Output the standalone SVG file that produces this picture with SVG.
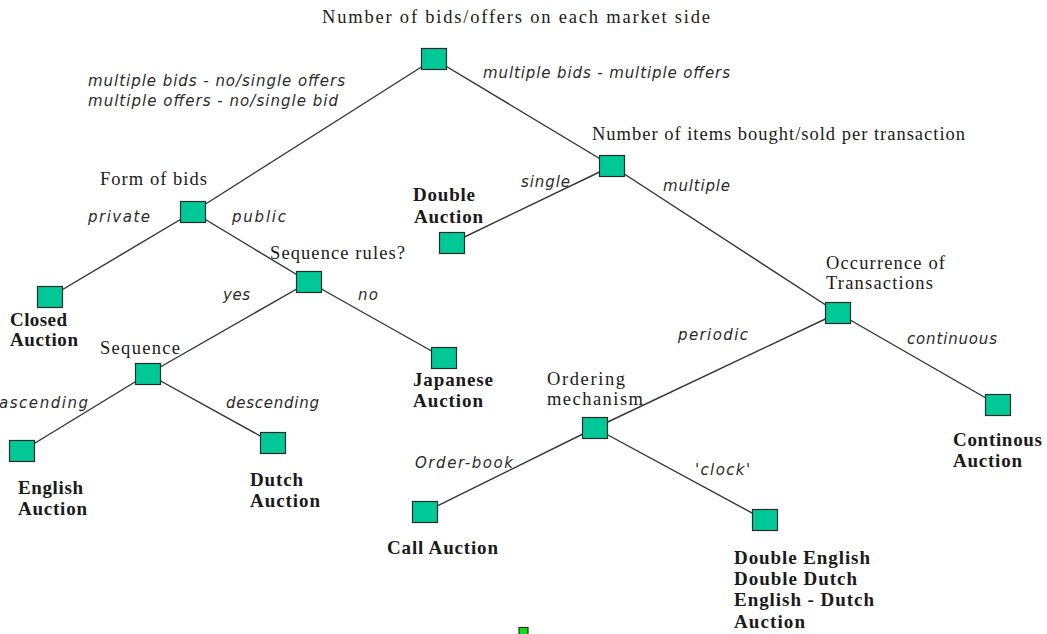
<svg xmlns="http://www.w3.org/2000/svg" width="1047" height="634" viewBox="0 0 1047 634">
  <style>
    .edge { stroke: #333333; stroke-width: 1.4; fill: none; }
    .node rect { fill: #00c997; stroke: #2a2a2a; stroke-width: 1.2; }
    .q { font-family: "Liberation Serif", "Times New Roman", serif; font-size: 18.5px; fill: #1a1a1a; }
    .lbl { font-family: "DejaVu Sans", Verdana, sans-serif; font-style: italic; font-size: 15px; fill: #2a2a2a; }
    .leaf { font-family: "Liberation Serif", "Times New Roman", serif; font-weight: bold; font-size: 19px; fill: #1a1a1a; }
  </style>
  <rect width="1047" height="634" fill="#ffffff"/>

  <!-- connectors between decision points -->
  <g id="connectors">
    <line class="edge" x1="434" y1="59" x2="193" y2="212"/>
    <line class="edge" x1="434" y1="59" x2="612" y2="166"/>
    <line class="edge" x1="193" y1="212" x2="50" y2="297"/>
    <line class="edge" x1="193" y1="212" x2="309" y2="282"/>
    <line class="edge" x1="309" y1="282" x2="148" y2="374"/>
    <line class="edge" x1="309" y1="282" x2="444" y2="358"/>
    <line class="edge" x1="148" y1="374" x2="22" y2="451"/>
    <line class="edge" x1="148" y1="374" x2="273" y2="443"/>
    <line class="edge" x1="612" y1="166" x2="452" y2="243"/>
    <line class="edge" x1="612" y1="166" x2="838" y2="313"/>
    <line class="edge" x1="838" y1="313" x2="595" y2="428"/>
    <line class="edge" x1="838" y1="313" x2="998" y2="405"/>
    <line class="edge" x1="595" y1="428" x2="425" y2="512"/>
    <line class="edge" x1="595" y1="428" x2="765" y2="520"/>
  </g>

  <!-- edge labels -->
  <g id="edge-labels">
    <text class="lbl" x="88" y="86" textLength="257" lengthAdjust="spacing">multiple bids - no/single offers</text>
    <text class="lbl" x="88" y="106" textLength="250" lengthAdjust="spacing">multiple offers - no/single bid</text>
    <text class="lbl" x="483" y="78" textLength="247" lengthAdjust="spacing">multiple bids - multiple offers</text>
    <text class="lbl" x="88" y="222" textLength="62" lengthAdjust="spacing">private</text>
    <text class="lbl" x="232" y="222" textLength="54" lengthAdjust="spacing">public</text>
    <text class="lbl" x="521" y="187" textLength="49" lengthAdjust="spacing">single</text>
    <text class="lbl" x="663" y="191" textLength="67" lengthAdjust="spacing">multiple</text>
    <text class="lbl" x="223" y="300" textLength="27" lengthAdjust="spacing">yes</text>
    <text class="lbl" x="358" y="300" textLength="20" lengthAdjust="spacing">no</text>
    <text class="lbl" x="-1" y="408" textLength="89" lengthAdjust="spacing">ascending</text>
    <text class="lbl" x="226" y="408" textLength="93" lengthAdjust="spacing">descending</text>
    <text class="lbl" x="678" y="340" textLength="70" lengthAdjust="spacing">periodic</text>
    <text class="lbl" x="907" y="344" textLength="90" lengthAdjust="spacing">continuous</text>
    <text class="lbl" x="415" y="468" textLength="98" lengthAdjust="spacing">Order-book</text>
    <text class="lbl" x="695" y="475" textLength="55" lengthAdjust="spacing">'clock'</text>
  </g>

  <!-- decision points -->
  <g id="node-root" class="node">
    <rect x="421.5" y="48.5" width="25" height="21"/>
    <text class="q" x="322" y="23" textLength="388" lengthAdjust="spacing">Number of bids/offers on each market side</text>
  </g>
  <g id="node-items" class="node">
    <rect x="599.5" y="155.5" width="25" height="21"/>
    <text class="q" x="592" y="140" textLength="373" lengthAdjust="spacing">Number of items bought/sold per transaction</text>
  </g>
  <g id="node-form" class="node">
    <rect x="180.5" y="201.5" width="25" height="21"/>
    <text class="q" x="100" y="185" textLength="107" lengthAdjust="spacing">Form of bids</text>
  </g>
  <g id="node-seqrules" class="node">
    <rect x="296.5" y="271.5" width="25" height="21"/>
    <text class="q" x="270" y="259" textLength="135" lengthAdjust="spacing">Sequence rules?</text>
  </g>
  <g id="node-sequence" class="node">
    <rect x="135.5" y="363.5" width="25" height="21"/>
    <text class="q" x="100" y="354" textLength="80" lengthAdjust="spacing">Sequence</text>
  </g>
  <g id="node-occurrence" class="node">
    <rect x="825.5" y="302.5" width="25" height="21"/>
    <text class="q" x="826" y="269" textLength="119" lengthAdjust="spacing">Occurrence of</text>
    <text class="q" x="826" y="289" textLength="107" lengthAdjust="spacing">Transactions</text>
  </g>
  <g id="node-ordering" class="node">
    <rect x="582.5" y="417.5" width="25" height="21"/>
    <text class="q" x="547" y="385" textLength="78" lengthAdjust="spacing">Ordering</text>
    <text class="q" x="547" y="405" textLength="96" lengthAdjust="spacing">mechanism</text>
  </g>

  <!-- outcomes -->
  <g id="leaf-double" class="node">
    <rect x="439.5" y="232.5" width="25" height="21"/>
    <text class="leaf" x="413" y="201" textLength="62" lengthAdjust="spacing">Double</text>
    <text class="leaf" x="414" y="223" textLength="69" lengthAdjust="spacing">Auction</text>
  </g>
  <g id="leaf-closed" class="node">
    <rect x="37.5" y="286.5" width="25" height="21"/>
    <text class="leaf" x="10" y="326" textLength="57" lengthAdjust="spacing">Closed</text>
    <text class="leaf" x="10" y="346" textLength="68" lengthAdjust="spacing">Auction</text>
  </g>
  <g id="leaf-english" class="node">
    <rect x="9.5" y="440.5" width="25" height="21"/>
    <text class="leaf" x="18" y="494" textLength="65" lengthAdjust="spacing">English</text>
    <text class="leaf" x="18" y="515" textLength="69" lengthAdjust="spacing">Auction</text>
  </g>
  <g id="leaf-dutch" class="node">
    <rect x="260.5" y="432.5" width="25" height="21"/>
    <text class="leaf" x="250" y="486" textLength="53" lengthAdjust="spacing">Dutch</text>
    <text class="leaf" x="250" y="507" textLength="70" lengthAdjust="spacing">Auction</text>
  </g>
  <g id="leaf-japanese" class="node">
    <rect x="431.5" y="347.5" width="25" height="21"/>
    <text class="leaf" x="413" y="386" textLength="80" lengthAdjust="spacing">Japanese</text>
    <text class="leaf" x="413" y="407" textLength="70" lengthAdjust="spacing">Auction</text>
  </g>
  <g id="leaf-continous" class="node">
    <rect x="985.5" y="394.5" width="25" height="21"/>
    <text class="leaf" x="953" y="446" textLength="89" lengthAdjust="spacing">Continous</text>
    <text class="leaf" x="953" y="467" textLength="69" lengthAdjust="spacing">Auction</text>
  </g>
  <g id="leaf-call" class="node">
    <rect x="412.5" y="501.5" width="25" height="21"/>
    <text class="leaf" x="387" y="554" textLength="111" lengthAdjust="spacing">Call Auction</text>
  </g>
  <g id="leaf-clock" class="node">
    <rect x="752.5" y="509.5" width="25" height="21"/>
    <text class="leaf" x="734" y="564" textLength="136" lengthAdjust="spacing">Double English</text>
    <text class="leaf" x="734" y="585" textLength="123" lengthAdjust="spacing">Double Dutch</text>
    <text class="leaf" x="734" y="606" textLength="140" lengthAdjust="spacing">English - Dutch</text>
    <text class="leaf" x="734" y="628" textLength="71" lengthAdjust="spacing">Auction</text>
  </g>

  <!-- small marker at the lower edge -->
  <rect x="519" y="627.5" width="9" height="10" fill="#10e010" stroke="#2a2a2a" stroke-width="1.2"/>
</svg>
